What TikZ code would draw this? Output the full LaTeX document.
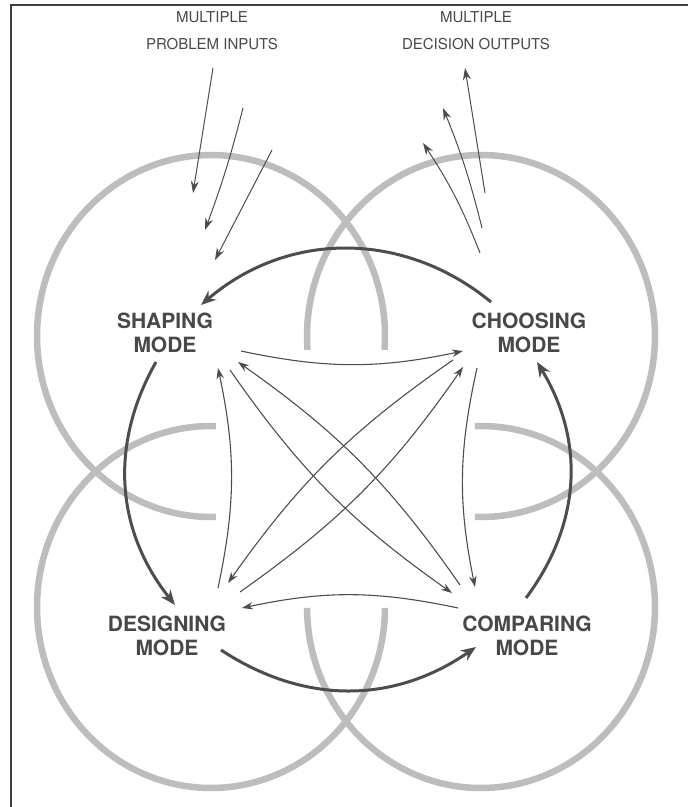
\documentclass[tikz,border=0pt]{standalone}
\usepackage{fontspec}
\setmainfont{TeX Gyre Heros}
\usepackage{tikz}
\usetikzlibrary{arrows.meta, positioning}
\definecolor{ringgray}{HTML}{BDBDBD}
\definecolor{arrowdark}{HTML}{4D4D4D}
\definecolor{labeldark}{HTML}{484848}

\begin{document}
\begin{tikzpicture}[x=1pt, y=1pt,
  ring/.style={ringgray, line width=6.5pt},
  modelabel/.style={font=\fontsize{21}{24}\selectfont\bfseries, text=labeldark, align=center, inner sep=0pt},
  toplabel/.style={font=\fontsize{15}{27}\selectfont, text=labeldark, align=center, inner sep=0pt},
  bigarrow/.style={-{Stealth[length=15pt,width=12pt]}, line width=3pt, arrowdark},
  linkarrow/.style={-{Stealth[length=11pt,width=7.5pt]}, line width=1.1pt, arrowdark},
  flowarrow/.style={-{Stealth[length=12pt,width=8pt]}, line width=1pt, arrowdark}]
\useasboundingbox (0,0) rectangle (688,807);

% Frame
\draw[black!75, line width=1.3pt] (688,802) -- (11,802) -- (11,0);

% Four rings, inner quarters left open
\draw[ring] (211,471) ++(-4.4:174 and 181) arc[start angle=-4.4, end angle=271.6, x radius=174, y radius=181];
\draw[ring] (481,471) ++(-92:174 and 181) arc[start angle=-92, end angle=184.4, x radius=174, y radius=181];
\draw[ring] (211,200) ++(88.4:174 and 181) arc[start angle=88.4, end angle=359.7, x radius=174, y radius=181];
\draw[ring] (481,200) ++(180.3:174 and 181) arc[start angle=180.3, end angle=452, x radius=174, y radius=181];

% Top labels
\node[toplabel] (inputs) at (212,776) {MULTIPLE\\PROBLEM INPUTS};
\node[toplabel] (outputs) at (476,776) {MULTIPLE\\DECISION OUTPUTS};

% Modes
\node[modelabel] (shaping) at (165,474) {SHAPING\\MODE};
\node[modelabel] (choosing) at (529,474) {CHOOSING\\MODE};
\node[modelabel] (designing) at (167,171) {DESIGNING\\MODE};
\node[modelabel] (comparing) at (527,171) {COMPARING\\MODE};

% Problem inputs
\coordinate (prob1) at (213,739); \coordinate (prob1tip) at (193,614);
\coordinate (prob2) at (243,699); \coordinate (prob2tip) at (205,577);
\coordinate (prob3) at (272,657); \coordinate (prob3tip) at (215,547);
\draw[flowarrow] (prob1) -- (prob1tip);
\draw[flowarrow] (prob2) to[bend left=3] (prob2tip);
\draw[flowarrow] (prob3) -- (prob3tip);

% Decision outputs
\coordinate (dec1) at (485,614); \coordinate (dec1tip) at (465,739);
\coordinate (dec2) at (482,579); \coordinate (dec2tip) at (443,699);
\coordinate (dec3) at (480,554); \coordinate (dec3tip) at (423,664);
\draw[flowarrow] (dec1) -- (dec1tip);
\draw[flowarrow] (dec2) to[bend right=4] (dec2tip);
\draw[flowarrow] (dec3) to[bend right=6] (dec3tip);

% Main cycle
\draw[bigarrow] ([shift={(-38,31)}]choosing.center) to[bend right=40] ([shift={(36,28)}]shaping.center);
\draw[bigarrow] ([shift={(-9,-29)}]shaping.center) to[bend right=34] ([shift={(8,31)}]designing.center);
\draw[bigarrow] ([shift={(54,-14)}]designing.center) to[bend right=34] ([shift={(-51,-11)}]comparing.center);
\draw[bigarrow] ([shift={(-1,38)}]comparing.center) to[bend right=34] ([shift={(8,-29)}]choosing.center);

% Links between modes
\draw[linkarrow] ([shift={(76,-18)}]shaping.center) to[bend right=12] ([shift={(-66,-18)}]choosing.center);
\draw[linkarrow] ([shift={(51,48)}]designing.center) to[bend right=12] ([shift={(53,-35)}]shaping.center);
\draw[linkarrow] ([shift={(-52,-35)}]choosing.center) to[bend right=12] ([shift={(-52,49)}]comparing.center);
\draw[linkarrow] ([shift={(-69,28)}]comparing.center) to[bend right=12] ([shift={(75,28)}]designing.center);
\draw[linkarrow] ([shift={(-67,51)}]comparing.center) to[bend right=10] ([shift={(73,-29)}]shaping.center);
\draw[linkarrow] ([shift={(65,-37)}]shaping.center) to[bend right=10] ([shift={(-75,43)}]comparing.center);
\draw[linkarrow] ([shift={(73,44)}]designing.center) to[bend right=10] ([shift={(-66,-34)}]choosing.center);
\draw[linkarrow] ([shift={(-76,-27)}]choosing.center) to[bend right=10] ([shift={(61,53)}]designing.center);
\end{tikzpicture}
\end{document}
